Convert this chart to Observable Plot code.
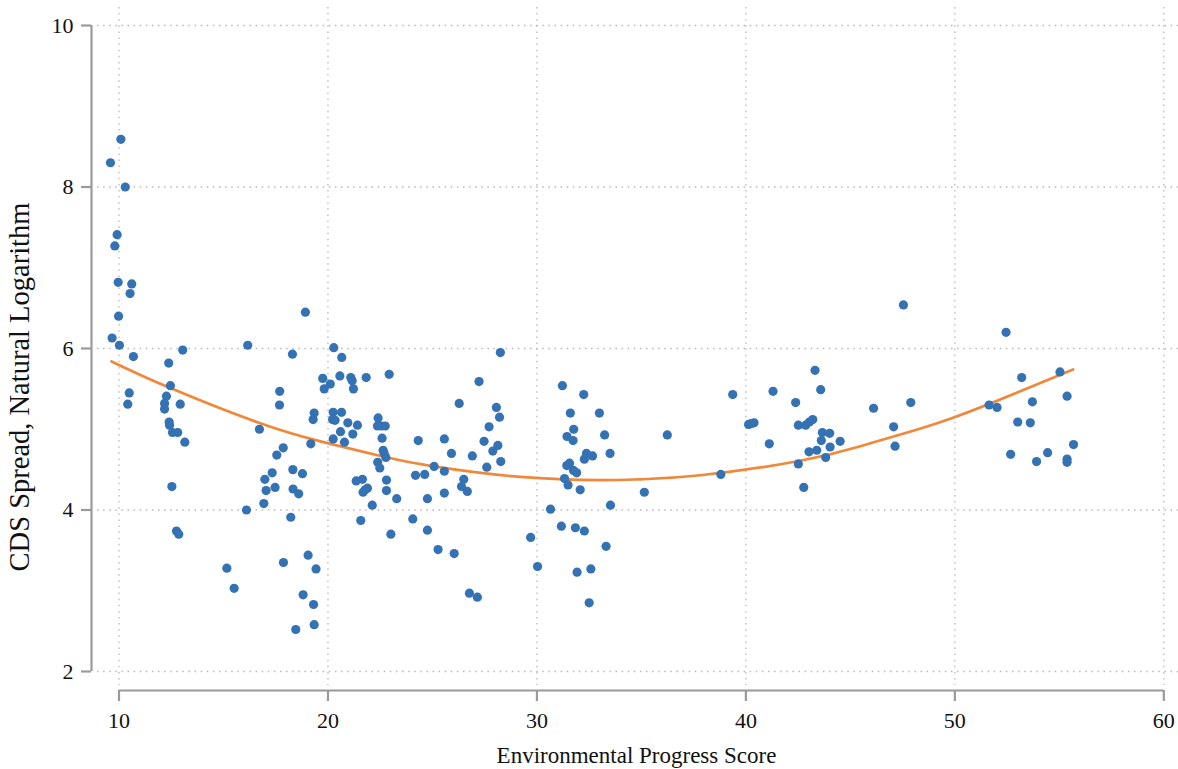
<!DOCTYPE html>
<html>
<head>
<meta charset="utf-8">
<script src="https://cdn.jsdelivr.net/npm/d3@7"></script>
<script src="https://cdn.jsdelivr.net/npm/@observablehq/plot@0.6"></script>
<style>
  html, body { margin: 0; padding: 0; background: #fff; }
  #chart { width: 1178px; height: 769px; }
</style>
</head>
<body>
<div id="chart"></div>
<script>
// Environmental Progress Score (x) for each observation
const scores = [
  9.59,10.09,10.30,9.91,9.80,9.96,10.61,10.53,9.98,9.67,10.02,10.69,12.38,13.05,16.16,18.30,
  18.92,12.46,10.49,10.42,12.27,12.18,12.18,12.93,12.40,12.42,12.56,12.81,13.15,12.53,12.75,12.86,
  16.72,17.55,17.86,17.69,17.68,18.32,18.78,17.33,16.98,17.04,17.47,18.33,18.60,16.93,16.10,18.22,
  19.18,19.29,19.34,17.87,19.05,19.43,15.16,15.51,18.81,19.31,18.46,19.34,
  20.28,20.66,19.75,19.82,20.11,20.57,21.09,21.16,21.22,21.83,22.93,20.25,20.22,20.34,20.65,20.95,
  21.41,20.60,21.19,20.25,20.79,22.40,22.37,22.56,22.74,22.59,22.64,22.69,22.38,22.48,22.77,21.35,
  21.65,21.89,21.68,21.78,22.80,22.80,23.29,22.12,21.57,23.01,24.32,25.57,25.91,24.19,24.63,25.08,
  25.57,24.76,25.57,24.06,24.76,25.27,26.04,26.77,27.15,26.28,27.23,28.25,28.06,28.21,27.71,27.47,
  28.13,27.89,26.91,27.60,28.27,26.50,26.39,26.67,
  31.22,32.24,31.60,32.99,31.76,31.44,31.73,33.24,32.37,32.66,32.27,33.50,31.56,31.43,31.75,31.90,
  31.32,31.49,32.07,36.24,35.14,33.52,30.65,31.17,31.84,32.27,29.70,33.31,30.03,31.92,32.58,32.50,
  38.80,39.37,40.13,40.39,40.26,41.30,41.12,42.38,42.51,42.86,43.04,43.20,43.31,43.58,43.66,44.01,
  43.61,44.03,44.51,43.02,43.39,43.82,42.51,42.77,46.11,47.07,47.14,
  47.54,47.89,52.45,51.64,52.02,53.20,53.71,53.01,53.61,55.03,55.37,55.68,52.67,54.44,53.91,55.37,55.37
];
// CDS Spread, natural logarithm (y) for each observation
const cdsLog = [
  8.30,8.59,8.00,7.41,7.27,6.82,6.80,6.68,6.40,6.13,6.04,5.90,5.82,5.98,6.04,5.93,
  6.45,5.54,5.45,5.31,5.41,5.32,5.25,5.31,5.09,5.05,4.96,4.96,4.84,4.29,3.74,3.70,
  5.00,4.68,4.77,5.47,5.30,4.50,4.45,4.46,4.38,4.24,4.28,4.26,4.20,4.08,4.00,3.91,
  4.82,5.12,5.20,3.35,3.44,3.27,3.28,3.03,2.95,2.83,2.52,2.58,
  6.01,5.89,5.63,5.50,5.56,5.66,5.64,5.60,5.50,5.64,5.68,5.21,5.12,5.11,5.21,5.08,
  5.05,4.97,4.94,4.88,4.84,5.14,5.04,5.04,5.04,4.89,4.74,4.70,4.59,4.52,4.65,4.36,
  4.38,4.27,4.22,4.25,4.37,4.24,4.14,4.06,3.87,3.70,4.86,4.88,4.70,4.43,4.44,4.54,
  4.48,4.14,4.21,3.89,3.75,3.51,3.46,2.97,2.92,5.32,5.59,5.95,5.27,5.15,5.03,4.85,
  4.80,4.73,4.67,4.53,4.60,4.38,4.29,4.23,
  5.54,5.43,5.20,5.20,5.00,4.91,4.86,4.93,4.70,4.67,4.63,4.70,4.58,4.55,4.49,4.46,
  4.39,4.31,4.25,4.93,4.22,4.06,4.01,3.80,3.78,3.74,3.66,3.55,3.30,3.23,3.27,2.85,
  4.44,5.43,5.06,5.08,5.07,5.47,4.82,5.33,5.05,5.05,5.09,5.12,5.73,5.49,4.96,4.95,
  4.86,4.78,4.85,4.72,4.74,4.65,4.57,4.28,5.26,5.03,4.79,
  6.54,5.33,6.20,5.30,5.27,5.64,5.34,5.09,5.08,5.71,5.41,4.81,4.69,4.71,4.60,4.63,4.59
];
// Quadratic fit line
const fitX = [9.64,12.46,16.69,19.64,22.67,25.06,29.21,33.04,34.95,37.82,42.60,45.48,47.07,49.78,53.13,55.66];
const fitY = [5.84,5.51,5.08,4.85,4.66,4.54,4.41,4.37,4.38,4.43,4.61,4.79,4.91,5.13,5.47,5.74];

const xTicks = [10, 20, 30, 40, 50, 60];
const yTicks = [2, 4, 6, 8, 10];
const xLabel = "Environmental Progress Score";
const yLabel = "CDS Spread, Natural Logarithm";

const xDomain = [8.684, 60.703];
const yDomain = [1.7647, 10.2229];

const points = scores.map((x, i) => ({x, y: cdsLog[i]}));
const fit = fitX.map((x, i) => ({x, y: fitY[i]}));

const axisGrey = "#9a9a9a";
const gridGrey = "#b8b8b8";
const ink = "#111";

const chart = Plot.plot({
  width: 1178,
  height: 769,
  marginLeft: 91,
  marginRight: 0,
  marginTop: 7,
  marginBottom: 79,
  style: {fontFamily: "'Liberation Serif', 'Times New Roman', serif", fontSize: "22px", background: "#fff", color: ink},
  x: {domain: xDomain},
  y: {domain: yDomain},
  marks: [
    Plot.ruleY(yTicks, {stroke: gridGrey, strokeWidth: 1.3, strokeDasharray: "1.5,4.6", insetLeft: 6}),
    Plot.ruleX(xTicks, {stroke: gridGrey, strokeWidth: 1.3, strokeDasharray: "1.5,4.6", insetBottom: 5}),
    Plot.ruleX([xDomain[0]], {y1: yTicks[0], y2: yTicks[yTicks.length - 1], stroke: axisGrey, strokeWidth: 2.2}),
    Plot.ruleY([yDomain[0]], {x1: xTicks[0], x2: xTicks[xTicks.length - 1], stroke: axisGrey, strokeWidth: 2.2}),
    Plot.axisX({ticks: xTicks, tickSize: 11, tickPadding: 11, fontSize: 22, stroke: axisGrey, strokeWidth: 2.2, fill: ink, label: null}),
    Plot.axisY({ticks: yTicks, tickSize: 10, tickPadding: 8, fontSize: 22, stroke: axisGrey, strokeWidth: 2.2, fill: ink, label: null}),
    Plot.line(fit, {x: "x", y: "y", stroke: "#f0883a", strokeWidth: 2.7, curve: "natural"}),
    Plot.dot(points, {x: "x", y: "y", r: 4.6, fill: "#3472b4", stroke: "none"}),
    Plot.text([xLabel], {text: d => d, frameAnchor: "bottom", textAnchor: "middle", dy: 65.6, dx: 1.5, fontSize: 23, fill: ink, lineAnchor: "middle"}),
    Plot.text([yLabel], {text: d => d, frameAnchor: "left", textAnchor: "middle", rotate: -90, dx: -71.7, dy: 38, fontSize: 28.5, fill: ink, lineAnchor: "middle"})
  ]
});
document.getElementById("chart").appendChild(chart);
</script>
</body>
</html>
